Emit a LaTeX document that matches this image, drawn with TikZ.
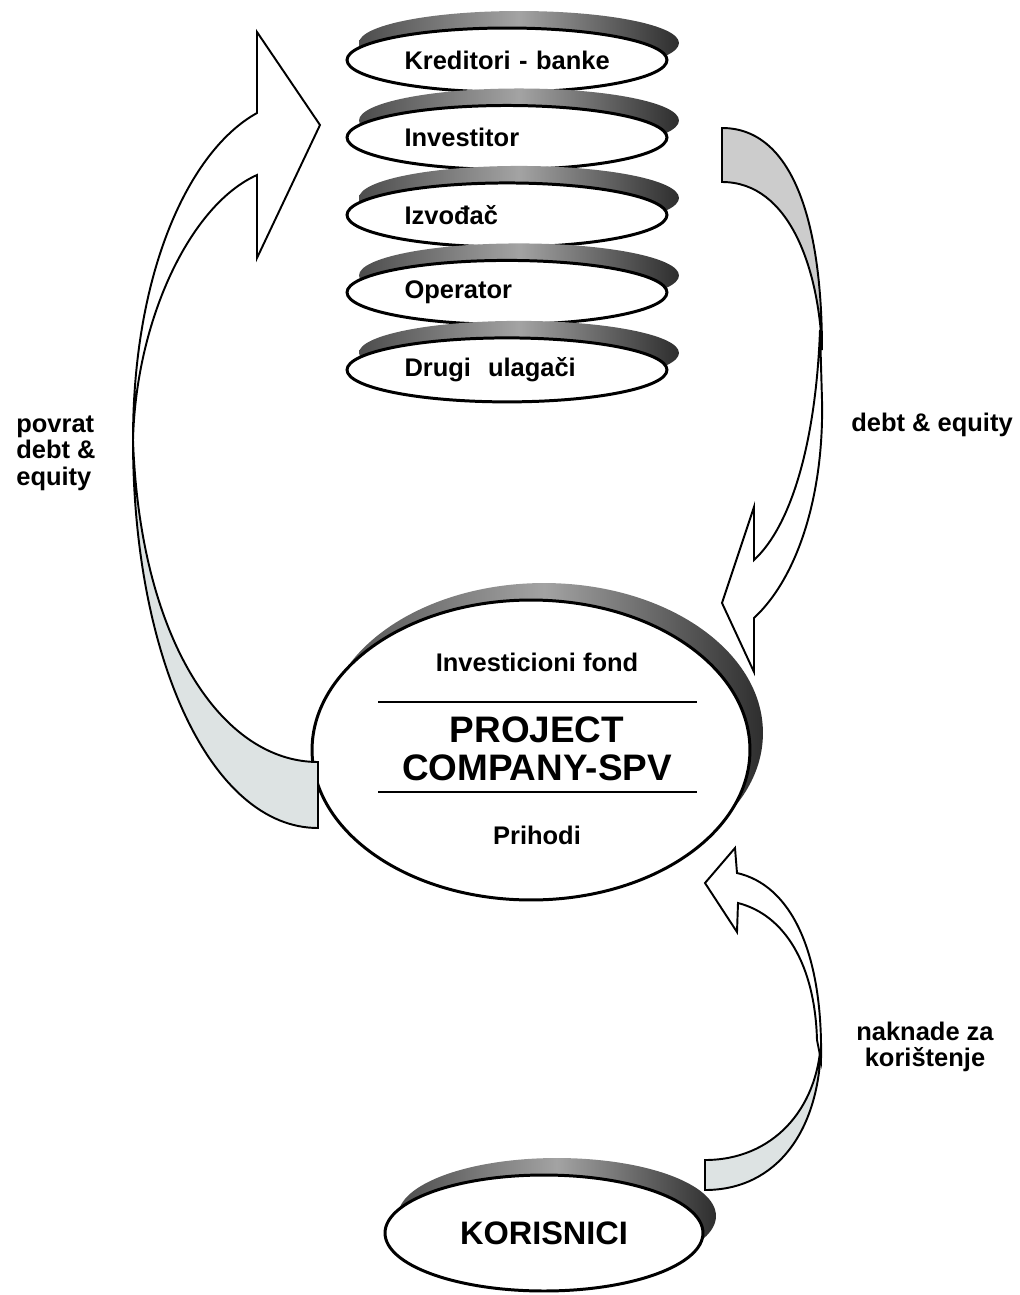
\documentclass[tikz,border=0pt]{standalone}
\usepackage{fontspec}
\setmainfont{Liberation Sans}
\usetikzlibrary{shapes.geometric, positioning, shadows}
\definecolor{backgray}{RGB}{221,227,227}
\definecolor{backdark}{RGB}{204,204,204}

\tikzset{
  lbl/.style={font=\fontsize{14.5}{15}\selectfont\bfseries, inner sep=0pt, align=center},
  ellshadow/.style={general shadow={shadow xshift=#1, shadow yshift=0.34cm,
      left color=black!70, right color=black!82, middle color=black!36}},
  stackell/.style={ellipse, draw=black, line width=1.7pt, fill=white,
      minimum width=6.4cm, minimum height=1.28cm, inner sep=0pt,
      text width=4.1cm, align=left, font=\fontsize{14.5}{15}\selectfont\bfseries,
      ellshadow=0.24cm},
  bigell/.style={ellipse, draw=black, line width=1.7pt, fill=white, inner sep=0pt,
      ellshadow=0.26cm},
  frontface/.style={draw=black, line width=1.1pt, fill=white, line join=miter},
  backface/.style={draw=black, line width=1.1pt, fill=backgray}
}

\begin{document}
\begin{tikzpicture}[x=0.02cm, y=-0.02cm]
  \useasboundingbox (0,0) rectangle (1020,1295);

  % the five parties
  \node[stackell] (kred) at (507,60) {\mbox{Kreditori - banke}};
  \node[stackell, below=0.21cm of kred] (inv) {Investitor};
  \node[stackell, below=0.21cm of inv] (izv) {Izvođač};
  \node[stackell, below=0.21cm of izv] (oper) {Operator};
  \node[stackell, below=0.21cm of oper] (drugi) {Drugi\ \ ulagači};

  % project company
  \node[bigell, minimum width=8.76cm, minimum height=6cm] (spv) at (531,750) {};
  \node[lbl] (fond) at (537,662) {Investicioni fond};
  \node[lbl, font=\fontsize{21}{21.5}\selectfont\bfseries] (spvname) at (537,749) {PROJECT\\COMPANY-SPV};
  \node[lbl] (prihodi) at (537,835) {Prihodi};
  \draw[line width=1.1pt] (378,702) -- (697,702);
  \draw[line width=1.1pt] (378,792) -- (697,792);

  % users
  \node[bigell, minimum width=6.36cm, minimum height=2.32cm,
        font=\fontsize{18.5}{19}\selectfont\bfseries] (kor) at (544,1233) {KORISNICI};

  % povrat debt & equity
  \draw[backface] (318,828) .. controls (212,828) and (133,660) .. (133,440)
    .. controls (140,640) and (222,762) .. (318,762) -- cycle;
  \draw[frontface] (257,113) .. controls (190,150) and (133,270) .. (133,440)
    .. controls (136,320) and (190,205) .. (257,175)
    -- (257,258) -- (320,125) -- (257,32) -- cycle;

  % debt & equity
  \draw[backface, fill=backdark] (722,128) .. controls (792,128) and (822,220) .. (822,350)
    .. controls (819,270) and (790,182) .. (722,182) -- cycle;
  \draw[frontface] (820,330) .. controls (816,440) and (792,525) .. (754,560)
    -- (754,507) -- (722,603) -- (754,672) -- (754,618)
    .. controls (800,575) and (824,490) .. (822,400) -- cycle;

  % naknade za koristenje
  \draw[backface] (705,1190) .. controls (777,1190) and (821,1130) .. (821,1040)
    .. controls (818,1110) and (772,1160) .. (705,1160) -- cycle;
  \draw[frontface] (821,1060) .. controls (823,950) and (790,885) .. (737,873)
    -- (735,848) -- (705,883) -- (737,932) -- (738,903)
    .. controls (785,915) and (815,965) .. (817,1040) -- cycle;

  % labels
  \node[lbl, anchor=west, align=left] (povrat) at (16,453) {povrat\\debt \&\\equity};
  \node[lbl] (debteq) at (932,425) {debt \& equity};
  \node[lbl] (naknade) at (925,1047) {naknade za\\korištenje};
\end{tikzpicture}
\end{document}
